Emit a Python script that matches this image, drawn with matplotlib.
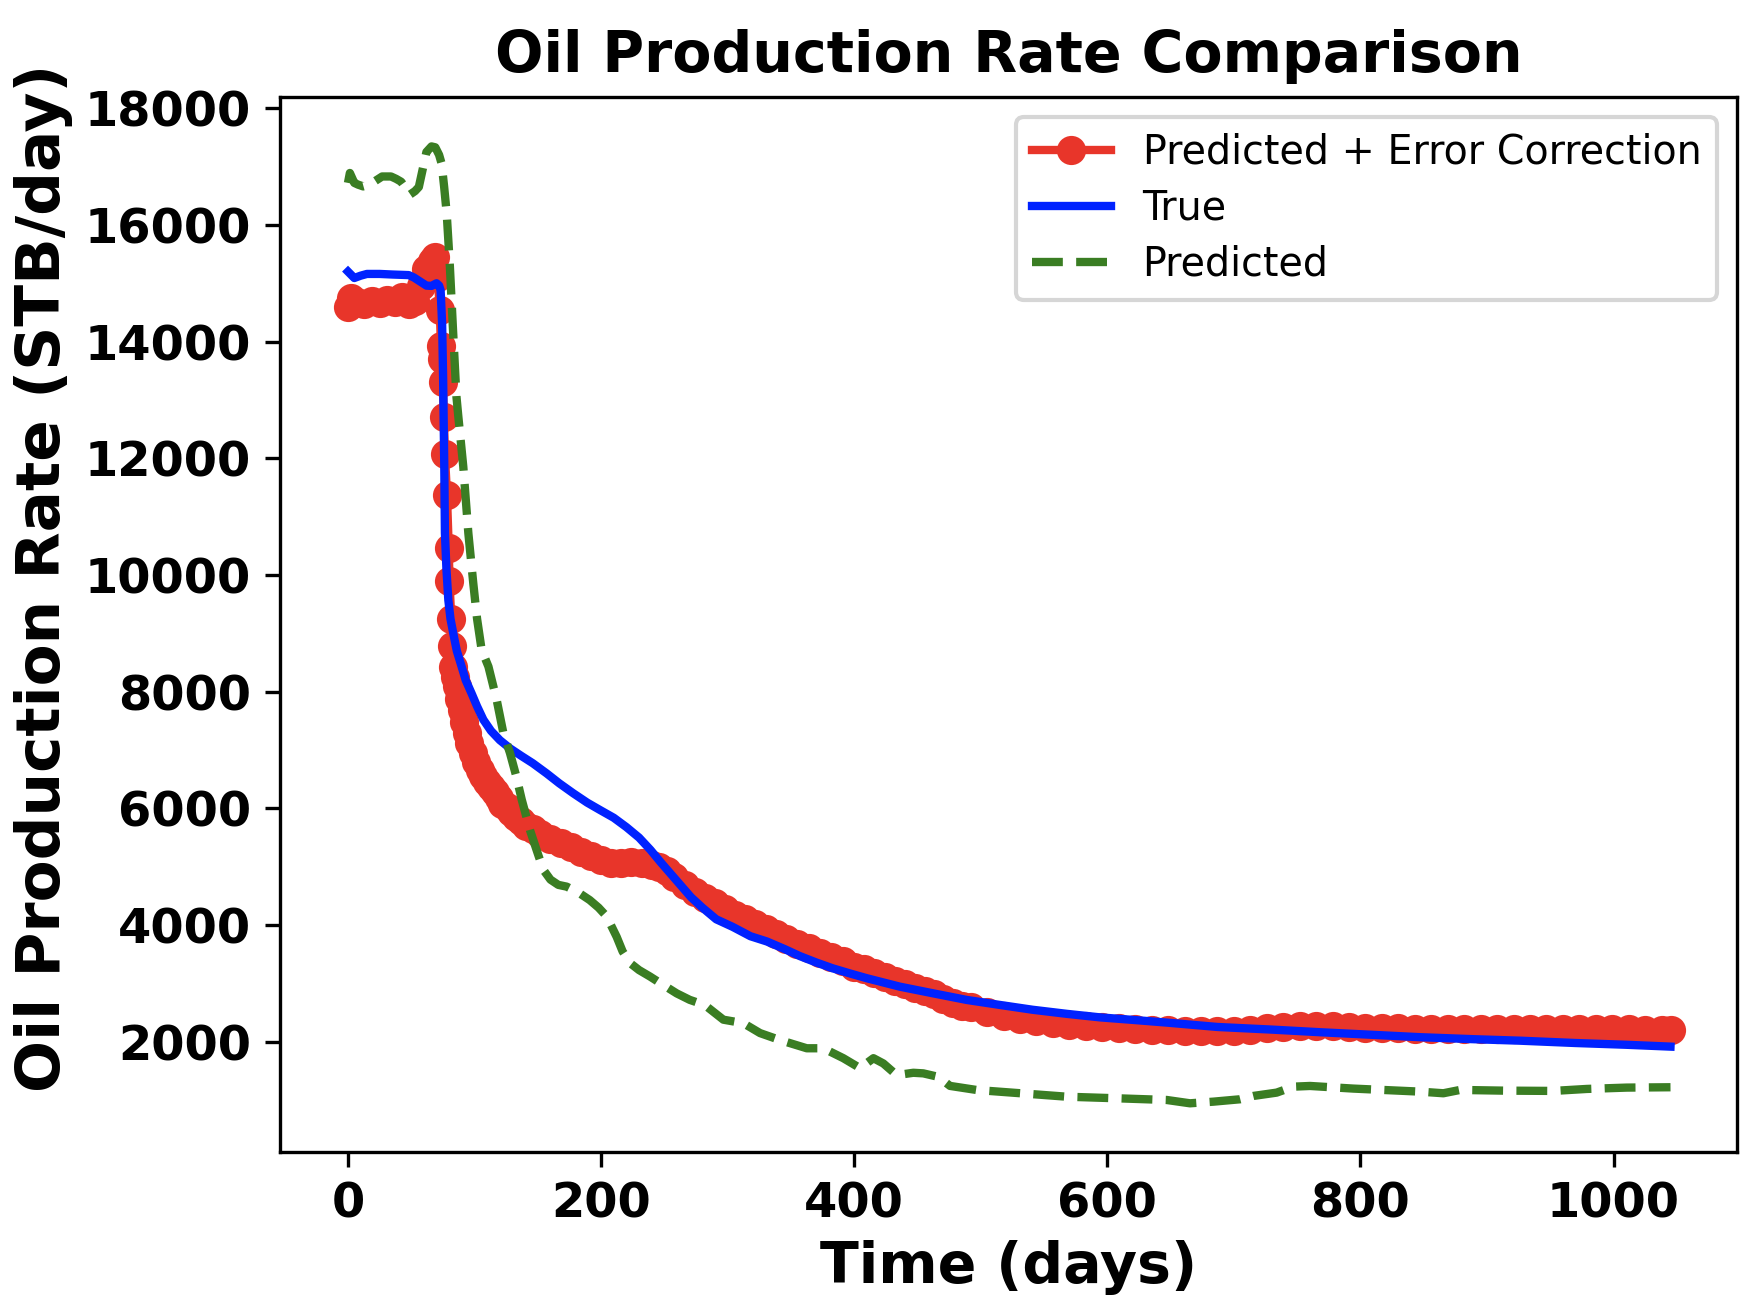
import matplotlib
matplotlib.use("Agg")
import matplotlib.pyplot as plt
import numpy as np

# Predicted + Error Correction (markers)
corr_days = [0, 2, 7, 13, 19, 25, 31, 37, 43, 48, 53, 58, 62, 66, 69, 71, 72.5, 73.5,
             74.2, 75, 75.8, 76.6, 78.2, 79.6, 80.2, 81.6, 82.3, 83, 84.5, 86, 88, 90,
             92, 94, 96, 98.5, 101, 104, 107, 110, 113, 116, 119, 122, 125.5, 129, 133,
             137, 141, 146, 152, 160, 168, 176, 184, 192, 200, 208, 216, 224, 232, 240,
             246, 252, 258, 266, 274, 282, 290, 298, 306, 314, 322, 330, 338, 346, 355,
             364, 373, 382, 391, 400, 408, 416, 424, 432, 440, 448, 456, 463, 470, 478,
             485, 492, 505, 518, 531, 544, 557, 570, 583, 596, 609, 622, 635, 648, 661,
             674, 687, 700, 713, 726, 739, 752, 765, 778, 791, 804, 817, 830, 843, 856,
             869, 882, 895, 908, 921, 934, 947, 960, 973, 986, 999, 1012, 1025, 1038, 1045]
corr_rate = [14600, 14740, 14680, 14650, 14700, 14660, 14720, 14680, 14760, 14640, 14700,
             14950, 15250, 15380, 15450, 15100, 14550, 13920, 13700, 13300, 12700, 12070,
             11380, 10470, 9900, 9240, 8780, 8430, 8250, 8100, 7880, 7680, 7480, 7300,
             7130, 6950, 6800, 6660, 6550, 6450, 6370, 6280, 6180, 6080, 6020, 5940, 5860,
             5790, 5700, 5640, 5570, 5480, 5410, 5340, 5260, 5190, 5120, 5070, 5060, 5080,
             5070, 5030, 4990, 4930, 4830, 4680, 4560, 4470, 4380, 4270, 4180, 4110, 4020,
             3930, 3840, 3770, 3680, 3600, 3530, 3450, 3380, 3290, 3240, 3180, 3110, 3050,
             2990, 2930, 2870, 2820, 2730, 2670, 2620, 2590, 2520, 2450, 2400, 2360, 2320,
             2290, 2270, 2250, 2230, 2215, 2205, 2195, 2190, 2190, 2185, 2190, 2205, 2230,
             2250, 2265, 2270, 2265, 2255, 2245, 2240, 2230, 2220, 2215, 2215, 2220, 2225,
             2225, 2225, 2225, 2225, 2220, 2220, 2220, 2220, 2215, 2210, 2205, 2205]

# True
true_days = [0, 5, 10, 15, 25, 35, 48, 52, 57, 62, 66, 70, 72, 73.2, 74.4, 75.2, 75.7,
             76.1, 76.6, 77.8, 79.3, 81, 83.2, 86, 89.8, 93, 97.7, 102, 107, 113, 120,
             128, 137, 146, 157, 167, 178, 189, 199, 210, 220, 230, 239, 247, 255, 263,
             271, 280, 291, 304, 318, 331, 345, 357, 370, 383, 397, 410, 436, 462, 489,
             515, 541, 568, 594, 621, 647, 687, 730, 768, 810, 847, 890, 926, 970, 1010,
             1045]
true_rate = [15200, 15090, 15130, 15160, 15160, 15150, 15140, 15100, 15030, 14960, 14955,
             15000, 14960, 14880, 14300, 13340, 12490, 11860, 10720, 10100, 9570, 9250,
             9000, 8700, 8430, 8200, 7970, 7750, 7520, 7330, 7170, 7030, 6900, 6775, 6600,
             6430, 6260, 6100, 5975, 5840, 5680, 5500, 5290, 5080, 4880, 4680, 4480, 4300,
             4100, 3970, 3810, 3720, 3590, 3470, 3360, 3260, 3170, 3090, 2946, 2833, 2718,
             2633, 2550, 2480, 2420, 2375, 2330, 2255, 2210, 2165, 2120, 2080, 2045, 2020,
             1980, 1950, 1918]

# Predicted
pred_days = [0, 1.5, 5, 8, 12, 17, 22, 27, 34, 38, 42, 46, 49, 53, 56, 59, 62, 66, 69,
             72, 74, 76, 78, 80.4, 83, 85.7, 87.2, 91.1, 95.1, 99, 102, 105.6, 111, 117.5,
             122.8, 128, 133, 137.3, 143.8, 149, 154.3, 160, 166.2, 172.8, 182, 191, 198,
             204.4, 212.3, 217, 222.9, 230, 238.6, 248, 259.8, 270, 282, 296.6, 312.4,
             325.6, 341.4, 362.5, 375.6, 391.4, 404.6, 415.2, 423, 433.6, 446.7, 454.6,
             466.5, 475.7, 496.8, 530.8, 567.9, 607.4, 646.9, 665.3, 683.8, 704.9, 715.4,
             733.8, 747, 760.2, 794.4, 847.1, 865.5, 878.7, 912.9, 952.4, 978.8, 1010.4,
             1045]
pred_rate = [16720, 16890, 16720, 16690, 16660, 16690, 16760, 16830, 16830, 16790, 16740,
             16620, 16520, 16580, 16650, 16950, 17250, 17345, 17330, 17200, 17050, 16650,
             16200, 15340, 14200, 13060, 12715, 11860, 10720, 9860, 9250, 8720, 8430, 7860,
             7290, 6950, 6550, 6150, 5630, 5290, 4950, 4780, 4690, 4660, 4560, 4430, 4300,
             4150, 3800, 3550, 3350, 3230, 3120, 2990, 2830, 2720, 2630, 2380, 2320, 2150,
             2030, 1890, 1890, 1720, 1550, 1720, 1630, 1430, 1470, 1460, 1400, 1245, 1175,
             1120, 1060, 1033, 1004, 947, 975, 1016, 1073, 1130, 1232, 1244, 1199, 1147,
             1119, 1176, 1164, 1159, 1193, 1216, 1222]

x_ticks = [0, 200, 400, 600, 800, 1000]
y_ticks = [2000, 4000, 6000, 8000, 10000, 12000, 14000, 16000, 18000]

RED = "#e8352a"
BLUE = "#0022ff"
GREEN = "#3a7d23"

fig = plt.figure(figsize=(1760 / 300, 1300 / 300), dpi=300)
ax = fig.add_axes([0.1591, 0.1141, 0.8278, 0.8111])

ax.plot(corr_days, corr_rate, "o-", color=RED, lw=2, ms=6,
        label="Predicted + Error Correction")
ax.plot(true_days, true_rate, "-", color=BLUE, lw=2, label="True")
ax.plot(pred_days, pred_rate, "--", color=GREEN, lw=2, label="Predicted")

ax.set_xlim(-53.7, 1097.5)
ax.set_ylim(118, 18188)
ax.set_xticks(x_ticks)
ax.set_yticks(y_ticks)
for lbl in ax.get_xticklabels() + ax.get_yticklabels():
    lbl.set_fontweight("bold")
    lbl.set_fontsize(11.5)

ax.set_title("Oil Production Rate Comparison", fontsize=13.7, fontweight="bold")
ax.set_xlabel("Time (days)", fontsize=13.7, fontweight="bold", labelpad=3)
ax.set_ylabel("Oil Production Rate (STB/day)", fontsize=14.7, fontweight="bold")
ax.yaxis.set_label_coords(-0.142, 0.544)

ax.legend(loc="upper right", fontsize=9.5, labelspacing=0.4)

fig.savefig("out.png", dpi=300)
